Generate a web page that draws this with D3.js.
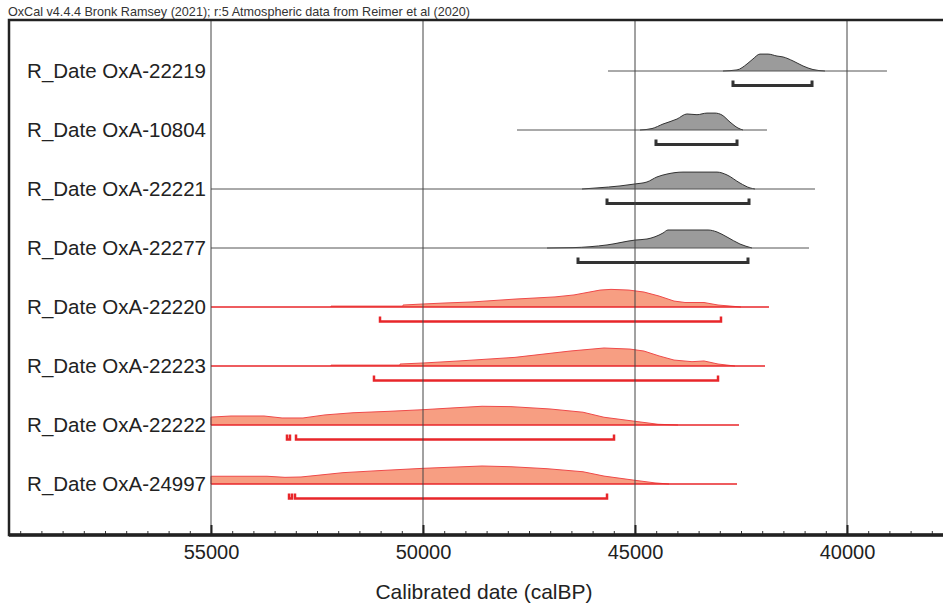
<!DOCTYPE html>
<html>
<head>
<meta charset="utf-8">
<script src="https://cdn.jsdelivr.net/npm/d3@7"></script>
<style>
  body { margin: 0; background: #fff; }
  svg { display: block; font-family: "Liberation Sans", Arial, sans-serif; }
</style>
</head>
<body>
<svg id="chart" width="943" height="605"></svg>
<script>
// R_Date labels, top to bottom
const labels = [
  'R_Date OxA-22219', 'R_Date OxA-10804', 'R_Date OxA-22221', 'R_Date OxA-22277',
  'R_Date OxA-22220', 'R_Date OxA-22223', 'R_Date OxA-22222', 'R_Date OxA-24997'
];
// red (highlighted) rows vs grey ones
const highlighted = [false, false, false, false, true, true, true, true];

// extent of the thin base line of each row (calBP)
const spans = [
  [45637, 39057], [47783, 41887], [55000, 40755], [55000, 40896],
  [55000, 41840], [55000, 41934], [55000, 42547], [55000, 42594]
];

// probability distributions, [calBP, relative prob]
const dists = [
  [[42925,0],[42594,0.06],[42358,0.39],[42217,0.67],[42052,0.94],[41863,0.94],[41651,0.83],[41509,0.78],[41274,0.56],[41038,0.28],[40802,0.08],[40519,0]],
  [[44882,0],[44599,0.08],[44340,0.33],[44009,0.61],[43774,0.89],[43538,0.85],[43302,0.94],[43113,0.94],[42948,0.83],[42759,0.44],[42571,0.11],[42453,0]],
  [[46250,0],[45896,0.06],[45354,0.17],[45000,0.28],[44717,0.39],[44481,0.67],[44245,0.83],[43868,0.94],[43066,0.94],[42830,0.78],[42524,0.33],[42288,0.06],[42170,0]],
  [[47075,0],[46462,0.02],[45660,0.17],[45000,0.44],[44717,0.5],[44340,0.83],[44222,1.0],[43278,1.0],[43066,0.89],[42830,0.61],[42524,0.22],[42241,0]],
  [[52170,0],[52170,0.05],[50472,0.05],[50472,0.11],[49976,0.17],[49505,0.22],[48844,0.28],[47830,0.44],[46887,0.56],[46439,0.67],[45825,0.94],[45566,0.98],[45142,0.94],[44788,0.83],[44434,0.61],[44080,0.33],[43821,0.25],[43373,0.25],[43042,0.11],[42500,0]],
  [[52170,0],[52170,0.05],[50542,0.05],[50542,0.11],[49976,0.17],[49151,0.28],[47830,0.48],[46533,0.83],[45731,1.0],[45118,0.94],[44788,0.83],[44434,0.56],[44080,0.33],[43656,0.24],[43373,0.28],[43042,0.11],[42642,0]],
  [[55000,0],[55000,0.44],[54528,0.5],[53750,0.5],[53325,0.39],[52830,0.39],[52311,0.56],[51651,0.68],[50802,0.76],[50000,0.85],[49363,0.94],[48608,1.04],[47925,1.02],[47005,0.89],[46226,0.71],[45731,0.43],[45047,0.22],[44458,0.04],[43986,0]],
  [[55000,0],[55000,0.43],[53679,0.43],[53255,0.37],[52877,0.39],[52500,0.48],[51887,0.63],[51061,0.74],[50000,0.87],[49363,0.93],[48608,1.0],[47925,0.96],[47075,0.85],[46226,0.68],[45731,0.44],[45047,0.22],[44528,0.06],[44198,0]]
];

// 95.4% ranges (one or more segments per row)
const ranges95 = [
  [[42689, 40825]],
  [[44505, 42594]],
  [[45660, 42311]],
  [[46344, 42335]],
  [[51014, 42972]],
  [[51156, 43042]],
  [[53208, 53137], [52995, 45495]],
  [[53160, 53090], [53019, 45660]]
];

const majorTicks = [55000, 50000, 45000, 40000];
const minorTicks = d3.range(59500, 37999, -500);

const header = 'OxCal v4.4.4 Bronk Ramsey (2021); r:5 Atmospheric data from Reimer et al (2020)';
const xTitle = 'Calibrated date (calBP)';

const svg = d3.select('#chart');
const frame = { left: 9, top: 20, right: 943, bottom: 535 };

const x = d3.scaleLinear().domain([55000, 40000]).range([211, 847]);
const y = d3.scalePoint().domain(labels).range([71, 484]);
const h = d3.scaleLinear().domain([0, 1]).range([0, 18]);

const grey = { fill: '#9b9b9b', stroke: '#333', base: '#555', bar: '#333' };
const red = { fill: '#f79e82', stroke: '#ef4a4a', base: '#e8262a', bar: '#e8262a' };

// header
svg.append('text')
  .attr('x', 8)
  .attr('y', 16)
  .attr('textLength', 462)
  .attr('lengthAdjust', 'spacingAndGlyphs')
  .style('font-size', '13.5px')
  .attr('fill', '#333')
  .text(header);

const rows = svg.append('g');

labels.forEach((name, i) => {
  const c = highlighted[i] ? red : grey;
  const y0 = y(name);
  const g = rows.append('g');
  const curve = highlighted[i] ? d3.curveLinear : d3.curveMonotoneX;

  const area = d3.area()
    .x((d) => x(d[0]))
    .y0(y0)
    .y1((d) => y0 - h(d[1]))
    .curve(curve);
  const top = d3.line()
    .x((d) => x(d[0]))
    .y((d) => y0 - h(d[1]))
    .curve(curve);

  g.append('path')
    .attr('d', area(dists[i]))
    .attr('fill', c.fill);
  g.append('path')
    .attr('d', top(dists[i]))
    .attr('fill', 'none')
    .attr('stroke', c.stroke)
    .attr('stroke-width', 1);

  g.append('line')
    .attr('x1', x(spans[i][0]))
    .attr('x2', x(spans[i][1]))
    .attr('y1', y0)
    .attr('y2', y0)
    .attr('stroke', c.base)
    .attr('stroke-width', highlighted[i] ? 1.4 : 1);

  // 95.4% range brackets
  const by = y0 + 14.5;
  ranges95[i].forEach((r) => {
    const x1 = x(r[0]), x2 = x(r[1]);
    g.append('path')
      .attr('d', `M${x1},${by - 5}V${by}H${x2}V${by - 5}`)
      .attr('fill', 'none')
      .attr('stroke', c.bar)
      .attr('stroke-width', highlighted[i] ? 2.5 : 3);
  });

  g.append('text')
    .attr('x', 206)
    .attr('y', y0)
    .attr('dy', '0.36em')
    .attr('text-anchor', 'end')
    .style('font-size', '20.5px')
    .attr('fill', '#222')
    .text(name);
});

// vertical grid lines, drawn over the distributions
svg.append('g')
  .selectAll('line')
  .data(majorTicks)
  .enter()
  .append('line')
  .attr('x1', (d) => x(d))
  .attr('x2', (d) => x(d))
  .attr('y1', frame.top)
  .attr('y2', frame.bottom)
  .attr('stroke', '#444')
  .attr('stroke-width', 1);

// minor ticks
const minorAxis = d3.axisBottom(x).tickValues(minorTicks).tickSize(-4).tickFormat('');
svg.append('g')
  .attr('transform', `translate(0, ${frame.bottom})`)
  .call(minorAxis)
  .call((g) => g.select('.domain').remove())
  .call((g) => g.selectAll('line').attr('stroke', '#333'));

// major ticks + labels
const majorAxis = d3.axisBottom(x)
  .tickValues(majorTicks)
  .tickSizeInner(-10)
  .tickSizeOuter(0)
  .tickPadding(10)
  .tickFormat(d3.format('d'));
svg.append('g')
  .attr('transform', `translate(0, ${frame.bottom})`)
  .call(majorAxis)
  .call((g) => g.select('.domain').remove())
  .call((g) => g.selectAll('line').attr('stroke', '#222').attr('stroke-width', 2))
  .call((g) => g.selectAll('text')
    .attr('fill', '#222')
    .style('font-size', '20px')
    .style('font-family', '"Liberation Sans", Arial, sans-serif'));

// frame
svg.append('path')
  .attr('d', `M${frame.right},${frame.top}H${frame.left}V${frame.bottom}H${frame.right}`)
  .attr('fill', 'none')
  .attr('stroke', '#222')
  .attr('stroke-width', 2.5);
svg.append('line')
  .attr('x1', frame.left)
  .attr('x2', frame.right)
  .attr('y1', frame.bottom)
  .attr('y2', frame.bottom)
  .attr('stroke', '#222')
  .attr('stroke-width', 3.5);

svg.append('text')
  .attr('x', 484)
  .attr('y', 599)
  .attr('text-anchor', 'middle')
  .style('font-size', '21px')
  .attr('fill', '#222')
  .text(xTitle);
</script>
</body>
</html>
